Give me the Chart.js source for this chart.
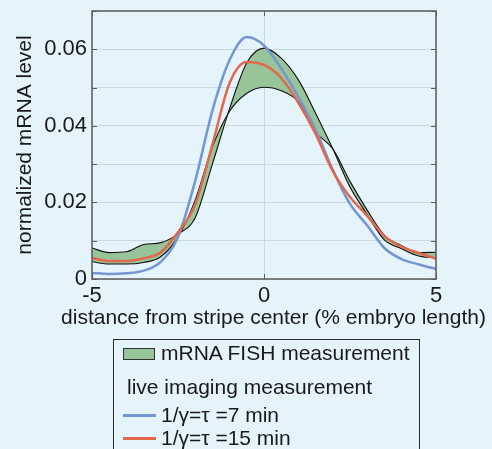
<!DOCTYPE html>
<html>
<head>
<meta charset="utf-8">
<script src="https://cdn.jsdelivr.net/npm/chart.js@4.4.0/dist/chart.umd.min.js"></script>
<style>
  html, body { margin: 0; padding: 0; background: #e5f3fb; }
  #wrap { position: relative; width: 492px; height: 449px; overflow: hidden;
          font-family: "Liberation Sans", Arial, sans-serif; color: #1a1a1a; }
  #chart { position: absolute; left: 0; top: 0; }
  #xtitle { position: absolute; left: 0; width: 547px; top: 304px; text-align: center;
            font-size: 21px; line-height: 26px; white-space: nowrap; }
  #legend {
    position: absolute; left: 113px; top: 339px; width: 307px; height: 130px;
    border: 1px solid #2a2a2a; box-sizing: border-box; font-size: 21px;
  }
  .row { position: absolute; left: 0; white-space: nowrap; line-height: 24px; }
  .sw-box { position: absolute; left: 9px; width: 32px; height: 12px; background: #98c49a; border: 1px solid #333; box-sizing: border-box; }
  .sw-line { position: absolute; left: 9px; width: 33px; height: 2.5px; }
  .txt { position: absolute; left: 47px; }
</style>
</head>
<body>
<div id="wrap">
  <canvas id="chart" width="492" height="449"></canvas>
  <div id="xtitle">distance from stripe center (% embryo length)</div>
  <div id="legend">
    <div class="sw-box" style="top:8px"></div>
    <div class="row txt" style="top:1px">mRNA FISH measurement</div>
    <div class="row" style="top:35px; left:13px">live imaging measurement</div>
    <div class="sw-line" style="top:74px; background:#7596d2"></div>
    <div class="row txt" style="top:63px">1/γ=τ =7 min</div>
    <div class="sw-line" style="top:97px; background:#e2674b"></div>
    <div class="row txt" style="top:86px">1/γ=τ =15 min</div>
  </div>
</div>
<script>
// distance from stripe center (% embryo length)
const positions = [-5, -4.5, -4, -3.5, -3, -2.5, -2, -1.5, -1, -0.5, 0, 0.5, 1, 1.5, 2, 2.5, 3, 3.5, 4, 4.5, 5];

// live imaging, 1/gamma = 7 min
const tau7 = [0.0016, 0.0013, 0.0015, 0.0022, 0.0045, 0.0110, 0.0256, 0.0440, 0.0572, 0.0632, 0.0610,
              0.0550, 0.0475, 0.0390, 0.0285, 0.0196, 0.0140, 0.0081, 0.0052, 0.0038, 0.0026];
// live imaging, 1/gamma = 15 min
const tau15 = [0.0055, 0.0047, 0.0047, 0.0054, 0.0070, 0.0122, 0.0195, 0.0351, 0.0512, 0.0567, 0.0559,
               0.0525, 0.0460, 0.0379, 0.0282, 0.0214, 0.0165, 0.0112, 0.0084, 0.0068, 0.0053];

// mRNA FISH band edges
const fishEdgeA = [0.0081, 0.0069, 0.0071, 0.0090, 0.0095, 0.0118, 0.0160, 0.0300, 0.0445, 0.0565, 0.0603,
                   0.0577, 0.0520, 0.0433, 0.0340, 0.0240, 0.0168, 0.0102, 0.0079, 0.0060, 0.0055];
const fishEdgeB = [0.0045, 0.0039, 0.0039, 0.0043, 0.0058, 0.0110, 0.0206, 0.0345, 0.0438, 0.0485, 0.0501,
                   0.0492, 0.0463, 0.0384, 0.0340, 0.0255, 0.0180, 0.0114, 0.0087, 0.0069, 0.0070];

const xTicks = [-5, 0, 5];
const yTicks = [0, 0.02, 0.04, 0.06];
const yGrid = [0, 0.01, 0.02, 0.03, 0.04, 0.05, 0.06, 0.07];

const pts = arr => positions.map((x, i) => ({ x: x, y: arr[i] }));

const fontFamily = '"Liberation Sans", Arial, sans-serif';

// frame round the plot and the small inward tick marks
const framePlugin = {
    id: "frame",
    afterDraw(chart) {
        const { ctx, chartArea: a, scales } = chart;
        ctx.save();
        ctx.strokeStyle = "#5b5b5b";
        ctx.lineWidth = 1.5;
        ctx.strokeRect(a.left, a.top, a.right - a.left, a.bottom - a.top);
        ctx.lineWidth = 1;
        ctx.beginPath();
        yGrid.forEach(v => {
            const py = Math.round(scales.y.getPixelForValue(v)) + 0.5;
            ctx.moveTo(a.left, py); ctx.lineTo(a.left + 5, py);
            ctx.moveTo(a.right, py); ctx.lineTo(a.right - 5, py);
        });
        xTicks.forEach(v => {
            const px = Math.round(scales.x.getPixelForValue(v)) + 0.5;
            ctx.moveTo(px, a.bottom); ctx.lineTo(px, a.bottom - 5);
            ctx.moveTo(px, a.top); ctx.lineTo(px, a.top + 5);
        });
        ctx.stroke();
        ctx.restore();
    }
};

new Chart(document.getElementById("chart"), {
    type: "line",
    data: {
        datasets: [
            {
                label: "1/γ=τ =15 min",
                data: pts(tau15),
                borderColor: "#e2674b",
                borderWidth: 2.5,
                pointRadius: 0,
                fill: false
            },
            {
                label: "1/γ=τ =7 min",
                data: pts(tau7),
                borderColor: "#7596d2",
                borderWidth: 2.5,
                pointRadius: 0,
                fill: false
            },
            {
                label: "mRNA FISH measurement",
                data: pts(fishEdgeA),
                borderColor: "#111",
                borderWidth: 1.1,
                pointRadius: 0,
                backgroundColor: "#98c49a",
                fill: "+1"
            },
            {
                label: "fish edge",
                data: pts(fishEdgeB),
                borderColor: "#111",
                borderWidth: 1.1,
                pointRadius: 0,
                fill: false
            }
        ]
    },
    options: {
        responsive: false,
        animation: false,
        cubicInterpolationMode: "monotone",
        layout: { padding: { left: 0, right: 56, top: 11, bottom: 110 } },
        plugins: {
            legend: { display: false },
            tooltip: { enabled: false },
            filler: { drawTime: "beforeDatasetsDraw" }
        },
        scales: {
            x: {
                type: "linear",
                min: -5,
                max: 5,
                afterBuildTicks: s => { s.ticks = xTicks.map(v => ({ value: v })); },
                afterFit: s => { s.height = 60; s.paddingLeft = 0; s.paddingRight = 0; },
                grid: { color: "#cbd8df", drawTicks: false },
                border: { display: false },
                ticks: {
                    padding: 4,
                    color: "#1a1a1a",
                    font: { family: fontFamily, size: 22 },
                    callback: v => String(v)
                }
            },
            y: {
                type: "linear",
                min: 0,
                max: 0.07,
                afterBuildTicks: s => { s.ticks = yGrid.map(v => ({ value: v })); },
                afterFit: s => { s.width = 92; s.paddingTop = 0; s.paddingBottom = 0; },
                grid: { color: "#cbd8df", drawTicks: false },
                border: { display: false },
                ticks: {
                    padding: 5,
                    color: "#1a1a1a",
                    font: { family: fontFamily, size: 22 },
                    callback: v => {
                        if (!yTicks.some(t => Math.abs(t - v) < 1e-9)) return "";
                        return v === 0 ? "0" : v.toFixed(2);
                    }
                },
                title: {
                    display: true,
                    text: "normalized mRNA level",
                    color: "#1a1a1a",
                    font: { family: fontFamily, size: 21 },
                    padding: { top: 13, bottom: 0 }
                }
            }
        }
    },
    plugins: [framePlugin]
});
</script>
</body>
</html>
